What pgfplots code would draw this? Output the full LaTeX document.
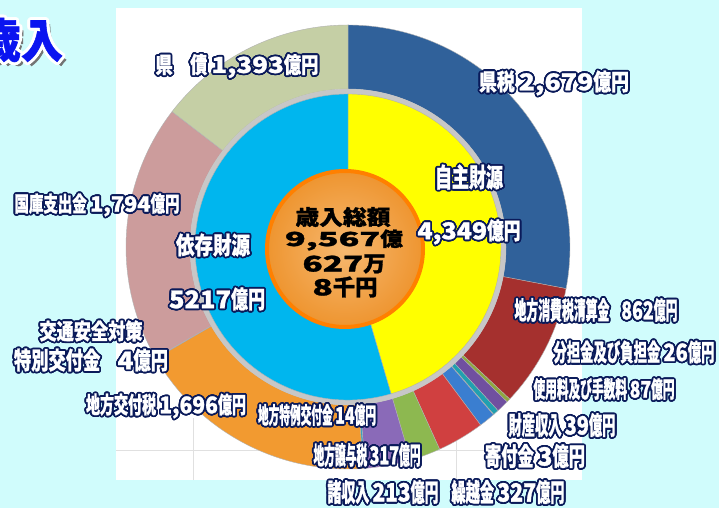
\documentclass[border=0pt]{standalone}
\usepackage{fontspec}
\usepackage{graphicx}
\usepackage{pgfplots}
\usepackage{pgfplotstable}
\pgfplotsset{compat=1.18}
\newfontfamily\jp{Noto Sans CJK JP}[FakeBold=1.2]
\newcommand\nm[1]{\scalebox{1.5}[1]{#1}}

\definecolor{bgc}{HTML}{D0FCFC}
\definecolor{navy}{HTML}{0A1A5A}
\definecolor{cA}{HTML}{30619A}
\definecolor{cB}{HTML}{A5302E}
\definecolor{cC}{HTML}{8FA840}
\definecolor{cD}{HTML}{7050A0}
\definecolor{cE}{HTML}{20A0B0}
\definecolor{cF}{HTML}{2A8A9A}
\definecolor{cG}{HTML}{3A7ED0}
\definecolor{cH}{HTML}{D04040}
\definecolor{cI}{HTML}{8DB850}
\definecolor{cJ}{HTML}{8A6AB8}
\definecolor{cK}{HTML}{3AA0C0}
\definecolor{cL}{HTML}{F29A30}
\definecolor{cM}{HTML}{905050}
\definecolor{cN}{HTML}{CC9C9C}
\definecolor{cO}{HTML}{C5CFA5}
\definecolor{cY}{HTML}{FFFF00}
\definecolor{cZ}{HTML}{00B6EE}
\definecolor{cCin}{HTML}{F6B870}
\definecolor{cCout}{HTML}{EE9530}
\definecolor{cCb}{HTML}{FF8000}
\definecolor{ttl}{HTML}{0A14F0}

\pgfplotstableread{
val col
2679 cA
862 cB
26 cC
87 cD
39 cE
3 cF
113 cG
327 cH
213 cI
317 cJ
14 cK
1696 cL
4 cM
1794 cN
1393 cO
}\outerring

\pgfplotstableread{
val col
4349 cY
5217 cZ
}\innerring

% #1 table, #2 total, #3 inner radius, #4 outer radius
\newcommand\drawring[4]{%
 \pgfplotstablegetrowsof{#1}\pgfmathtruncatemacro\NN{\pgfplotsretval-1}%
 \gdef\cum{0}%
 \foreach \i in {0,...,\NN}{%
   \pgfplotstablegetelem{\i}{val}\of{#1}\let\myval\pgfplotsretval
   \pgfplotstablegetelem{\i}{col}\of{#1}\let\mycol\pgfplotsretval
   \pgfmathsetmacro\angA{90-\cum/#2*360}%
   \pgfmathsetmacro\angB{90-(\cum+\myval)/#2*360}%
   \fill[fill=\mycol, draw=black!30, line width=0.4pt]
     ([shift={(\angA:#4pt)}]C) arc[start angle=\angA, end angle=\angB, radius=#4pt]
     -- ([shift={(\angB:#3pt)}]C) arc[start angle=\angB, end angle=\angA, radius=#3pt] -- cycle;
   \pgfmathsetmacro\nc{\cum+\myval}\xdef\cum{\nc}%
 }}

% outlined text: x, y (pixel, from top), w, h, text, fill, outline, radius
\newcommand\otext[8]{%
 \foreach \ang in {0,22.5,...,337.5}{\node[inner sep=0pt,text=#7] at ([shift={(\ang:#8)}]#1,508-#2) {\resizebox*{#3pt}{#4pt}{\jp\bfseries #5}};}%
 \node[inner sep=0pt,text=#6] at (#1,508-#2) {\resizebox*{#3pt}{#4pt}{\jp\bfseries #5}};}
\newcommand\lab[5]{\otext{#1}{#2}{#3}{#4}{#5}{white}{navy}{1.8}}
\newcommand\ctext[5]{\node[inner sep=0pt,text=black] at (#1,508-#2) {\resizebox*{#3pt}{#4pt}{\jp\bfseries #5}};}

\begin{document}
\begin{tikzpicture}[x=1pt,y=1pt]
\useasboundingbox (0,0) rectangle (719,508);
\clip (0,0) rectangle (719,508);
\begin{axis}[at={(0,0)}, anchor=south west, x=1pt, y=1pt,
  xmin=0, xmax=719, ymin=0, ymax=508, hide axis, disabledatascaling, clip=false]
\pgfplotsextra{
  \fill[bgc] (axis cs:0,0) rectangle (axis cs:719,508);
  \fill[white] (axis cs:116,28) rectangle (axis cs:582,500);
  \draw[black!12, line width=0.8pt] (axis cs:116,58) -- (axis cs:582,58);
  \draw[black!12, line width=0.8pt] (axis cs:193,28) -- (axis cs:193,90);
  \draw[black!12, line width=0.8pt] (axis cs:456,28) -- (axis cs:456,90);
  \coordinate (C) at (axis cs:348,261);
  \drawring{\outerring}{9567}{158}{222}
  \fill[black!22] (C) circle[radius=158pt];
  \drawring{\innerring}{9566}{60}{153}
  \shade[inner color=cCin, outer color=cCout] (axis cs:345,259) circle[radius=78pt];
  \draw[cCb, line width=4pt] (axis cs:345,259) circle[radius=78pt];
}
\end{axis}
% title
\node[inner sep=0pt,text=black!55] at (25,508-44) {\resizebox*{84pt}{44pt}{\jp\bfseries 歳入}};
\otext{21}{40}{84}{44}{歳入}{ttl}{white}{3}
% labels
\lab{554}{83}{150}{25}{県税 \nm{2,679}億円}
\lab{237}{66}{163}{24}{県　債 \nm{1,393}億円}
\lab{97}{205}{165}{23}{国庫支出金 \nm{1,794}億円}
\lab{213}{245}{74}{23}{依存財源}
\lab{217}{299}{96}{23}{\nm{5217}億円}
\lab{469}{177}{68}{25}{自主財源}
\lab{469}{232}{103}{25}{\nm{4,349}億円}
\lab{91}{331}{103}{21}{交通安全対策}
\lab{91}{360}{154}{23}{特別交付金　\nm{4}億円}
\lab{166}{406}{160}{25}{地方交付税 \nm{1,696}億円}
\lab{317}{415}{118}{22}{地方特例交付金 \nm{14}億円}
\lab{367}{455}{107}{24}{地方譲与税 \nm{317}億円}
\lab{383}{492}{111}{24}{諸収入 \nm{213}億円}
\lab{508}{492}{113}{24}{繰越金 \nm{327}億円}
\lab{535}{456}{100}{24}{寄付金 \nm{3}億円}
\lab{562}{425}{107}{24}{財産収入 \nm{39}億円}
\lab{604}{389}{141}{22}{使用料及び手数料 \nm{87}億円}
\lab{634}{352}{161}{23}{分担金及び負担金 \nm{26}億円}
\lab{596}{310}{163}{24}{地方消費税清算金　\nm{862}億円}
% centre text
\ctext{343}{217}{95}{20}{歳入総額}
\ctext{344}{240}{118}{21}{\nm{9,567}億}
\ctext{344}{264}{83}{19}{\nm{627}万}
\ctext{345}{287}{65}{21}{\nm{8}千円}
\end{tikzpicture}
\end{document}
